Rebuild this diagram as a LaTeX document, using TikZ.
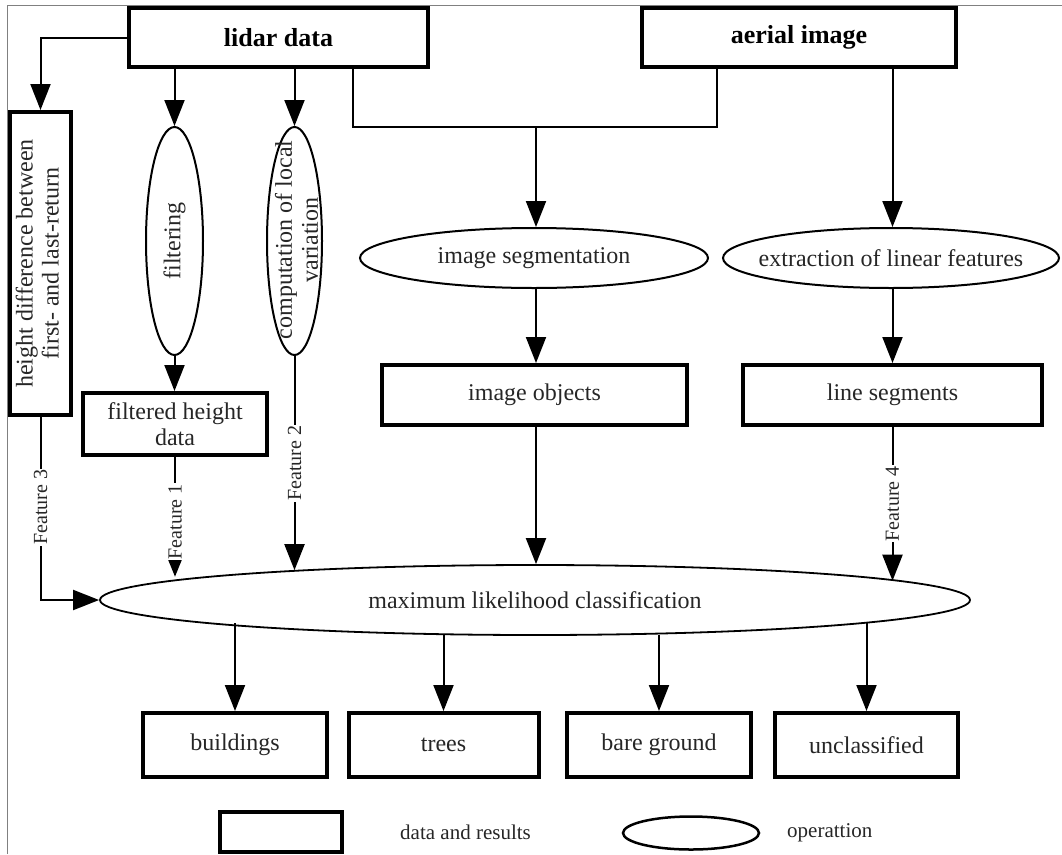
\documentclass[tikz,border=0pt]{standalone}
\usepackage{fontspec}
\usepackage{graphicx}
\setmainfont{Liberation Serif}
\usetikzlibrary{arrows.meta,shapes.geometric}
\newcommand\mysize{\fontsize{24}{26}\selectfont}
\newcommand\mybold{\fontsize{26}{28}\selectfont\bfseries}
\newcommand\myfeat{\fontsize{20}{22}\selectfont}
\newcommand\mylegend{\fontsize{21}{23}\selectfont}
\begin{document}
\begin{tikzpicture}[x=1pt,y=-1pt,
  box/.style={draw, line width=4pt, rectangle, inner sep=0pt, font=\mysize, text=black!85},
  op/.style={draw, line width=2pt, ellipse, inner sep=0pt, font=\mysize, text=black!85},
  txt/.style={inner sep=0pt, font=\mysize, text=black!85},
  conn/.style={line width=2pt},
  arr/.style={line width=2pt, -{Triangle[width=20pt,length=26pt]}},
  sarr/.style={line width=2pt, -{Triangle[width=14pt,length=18pt]}},
  flab/.style={fill=white, rotate=90, inner sep=1pt, font=\myfeat, text=black!85},
]
\useasboundingbox (0,0) rectangle (1062,854);
\draw[gray, line width=1pt] (7,854) -- (7,5) -- (1062,5);

% data boxes
\node[box, minimum width=299, minimum height=59, font=\mybold, text=black] (lidar) at (278.5,37.5) {lidar data};
\node[box, minimum width=314, minimum height=59, font=\mybold, text=black] (aerial) at (799,37.5) {aerial image};
\node[box, minimum width=61, minimum height=303] (hd) at (40.5,263.5)
  {\rotatebox{90}{\begin{tabular}{@{}c@{}}height difference between\\first- and last-return\end{tabular}}};
\node[box, minimum width=184, minimum height=62, align=center] (fh) at (175,424) {filtered height\\data};
\node[box, minimum width=305, minimum height=60] (obj) at (534.5,395) {image objects};
\node[box, minimum width=299, minimum height=60] (ls) at (892.5,395) {line segments};

% operations
\node[op, minimum width=57, minimum height=228] (filt) at (174.5,241) {\rotatebox{90}{filtering}};
\node[op, minimum width=55, minimum height=228] (cv) at (294.5,241) {};
\node[txt, rotate=90, align=center] (cvt) at (296.5,240) {computation of local\\variation};
\node[op, minimum width=348, minimum height=60] (seg) at (534,258) {image segmentation};
\node[op, minimum width=336, minimum height=60] (ext) at (891,258) {};
\node[txt] (extt) at (ext.center) {extraction of linear features};
\node[op, line width=1.8pt, minimum width=870, minimum height=70] (ml) at (535,600) {maximum likelihood classification};

% results
\node[box, minimum width=184, minimum height=64] (b1) at (235,745) {buildings};
\node[box, minimum width=190, minimum height=64] (b2) at (443.5,745) {trees};
\node[box, minimum width=184, minimum height=64] (b3) at (659,745) {bare ground};
\node[box, minimum width=183, minimum height=64] (b4) at (866.5,745) {unclassified};

% legend
\node[box, minimum width=122, minimum height=40] (lr) at (281,832) {};
\node[txt, font=\mylegend, anchor=west] (lrt) at (400,832) {data and results};
\node[op, line width=2.5pt, minimum width=136, minimum height=33] (le) at (691,833) {};
\node[txt, font=\mylegend, anchor=west] (lett) at (787,833) {operattion};

% connectors
\coordinate (jl) at (353,127);
\coordinate (jm) at (536,127);
\coordinate (jr) at (717,127);
\draw[arr] (lidar.west) -| (hd.north);
\draw[arr] (lidar.south -| filt.north) -- (filt.north);
\draw[arr] (lidar.south -| cv.north) -- (cv.north);
\draw[arr] (filt.south) -- (filt.south |- fh.north);
\draw[conn] (lidar.south -| jl) -- (jl) -- (jr) -- (aerial.south -| jr);
\draw[arr] (jm) -- (seg.north -| jm);
\draw[arr] (aerial.south -| ls.north) -- (ext.north -| ls.north);
\draw[arr] (seg.south -| jm) -- (obj.north -| jm);
\draw[arr] (ext.south -| ls.north) -- (ls.north);
\draw[arr] (obj.south -| jm) -- (ml.north -| jm);

\draw[sarr] (fh.south) -- node[flab, pos=0.54] {Feature 1} (fh.south |- ml.176.9);
\draw[arr] (cv.south) -- node[flab, pos=0.5] {Feature 2} (cv.south |- ml.173.1);
\draw[arr] (hd.south) |- node[flab, pos=0.246] {Feature 3} (ml.west);
\draw[arr] (ls.south) -- node[flab, pos=0.5] {Feature 4} (ls.south |- ml.3.2);

\draw[arr] (b1.north |- ml.184.8) -- (b1.north);
\draw[arr] (b2.north |- ml.200.4) -- (b2.north);
\draw[arr] (b3.north |- ml.344.7) -- (b3.north);
\draw[arr] (b4.north |- ml.356.0) -- (b4.north);
\end{tikzpicture}
\end{document}
